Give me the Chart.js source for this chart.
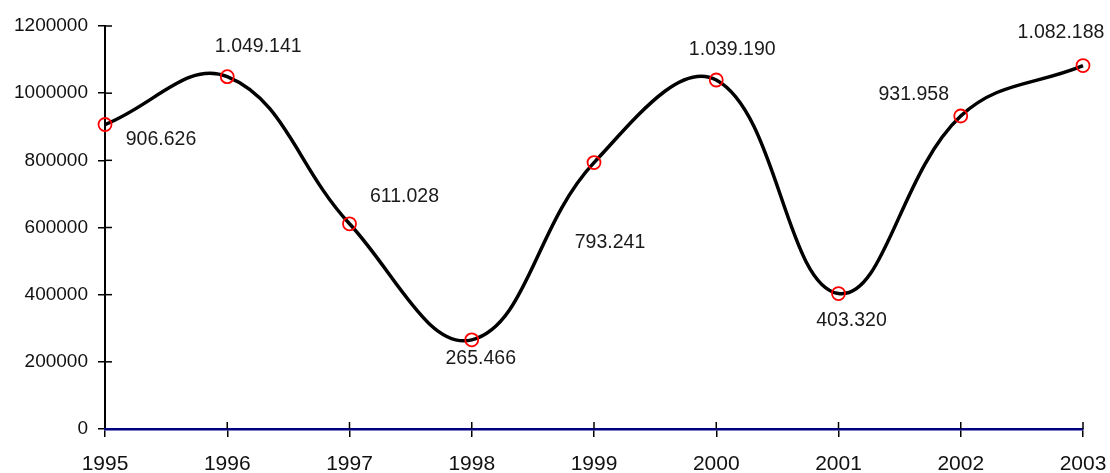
<!DOCTYPE html>
<html>
<head>
<meta charset="utf-8">
<script src="https://cdn.jsdelivr.net/npm/chart.js@4/dist/chart.umd.min.js"></script>
<style>
  html, body { margin: 0; padding: 0; background: #fff; }
  #wrap { width: 1110px; height: 473px; position: relative; }
</style>
</head>
<body>
<div id="wrap"><canvas id="salesChart"></canvas></div>
<script>
const years = ["1995", "1996", "1997", "1998", "1999", "2000", "2001", "2002", "2003"];
const values = [906626, 1049141, 611028, 265466, 793241, 1039190, 403320, 931958, 1082188];
const yTickValues = [0, 200000, 400000, 600000, 800000, 1000000, 1200000];

// where each value label sits relative to its point (px)
const labelOffsets = [[56, 15], [31, -30], [55, -27], [9, 19], [16, 80], [16, -30], [13, 27], [-47, -21], [-22, -33]];

const FONT = "'Liberation Sans', Arial, sans-serif";

function formatDots(value) {
  return new Intl.NumberFormat("de-DE").format(value);
}

const valueLabels = {
  id: "valueLabels",
  afterDatasetsDraw(chart) {
    const ctx = chart.ctx;
    const meta = chart.getDatasetMeta(0);
    ctx.save();
    ctx.font = "19.5px " + FONT;
    ctx.fillStyle = "#1a1a1a";
    ctx.textAlign = "center";
    ctx.textBaseline = "middle";
    meta.data.forEach((pt, i) => {
      const off = labelOffsets[i];
      ctx.fillText(formatDots(values[i]), pt.x + off[0], pt.y + off[1]);
    });
    ctx.restore();
  }
};

// tick marks in the original cross the axis, draw the inner half
const innerTicks = {
  id: "innerTicks",
  afterDraw(chart) {
    const ctx = chart.ctx;
    const x = chart.scales.x;
    const y = chart.scales.y;
    ctx.save();
    ctx.strokeStyle = "#000";
    ctx.lineWidth = 1.5;
    x.ticks.forEach((t, i) => {
      if (i === 0) return;
      const px = x.getPixelForTick(i);
      ctx.beginPath();
      ctx.moveTo(px, y.bottom);
      ctx.lineTo(px, y.bottom - 7);
      ctx.stroke();
    });
    y.ticks.forEach((t, i) => {
      if (i === 0) return;
      const py = y.getPixelForTick(i);
      ctx.beginPath();
      ctx.moveTo(x.left, py);
      ctx.lineTo(x.left + 7, py);
      ctx.stroke();
    });
    ctx.restore();
  }
};

new Chart(document.getElementById("salesChart"), {
  type: "line",
  data: {
    labels: years,
    datasets: [{
      data: values,
      borderColor: "#000",
      borderWidth: 3.5,
      tension: 0.4,
      fill: false,
      pointRadius: 6.5,
      pointBorderColor: "#ff0000",
      pointBackgroundColor: "rgba(0,0,0,0)",
      pointBorderWidth: 1.8
    }]
  },
  options: {
    responsive: true,
    maintainAspectRatio: false,
    animation: false,
    layout: { padding: { left: 0, right: 27, top: 26, bottom: 0 } },
    plugins: {
      legend: { display: false },
      tooltip: { enabled: false }
    },
    scales: {
      x: {
        offset: false,
        grid: { drawOnChartArea: false, drawTicks: true, tickLength: 8, color: "#000", lineWidth: 1.5 },
        border: { color: "#000080", width: 2.5, z: 1 },
        ticks: {
          color: "#111",
          padding: 15,
          maxRotation: 0,
          font: { family: FONT, size: 21 }
        },
        afterFit(scale) {
          scale.height = 44;
          scale.paddingLeft = 0;
          scale.paddingRight = 0;
        }
      },
      y: {
        min: 0,
        max: 1200000,
        afterBuildTicks(scale) {
          scale.ticks = yTickValues.map(v => ({ value: v }));
        },
        grid: { drawOnChartArea: false, drawTicks: true, tickLength: 7, color: "#000", lineWidth: 1.5 },
        border: { color: "#000", width: 2 },
        ticks: {
          color: "#111",
          padding: 10,
          font: { family: FONT, size: 19 },
          callback: v => String(v)
        },
        afterFit(scale) {
          scale.width = 105;
          scale.paddingTop = 0;
          scale.paddingBottom = 0;
        }
      }
    }
  },
  plugins: [valueLabels, innerTicks]
});
</script>
</body>
</html>
